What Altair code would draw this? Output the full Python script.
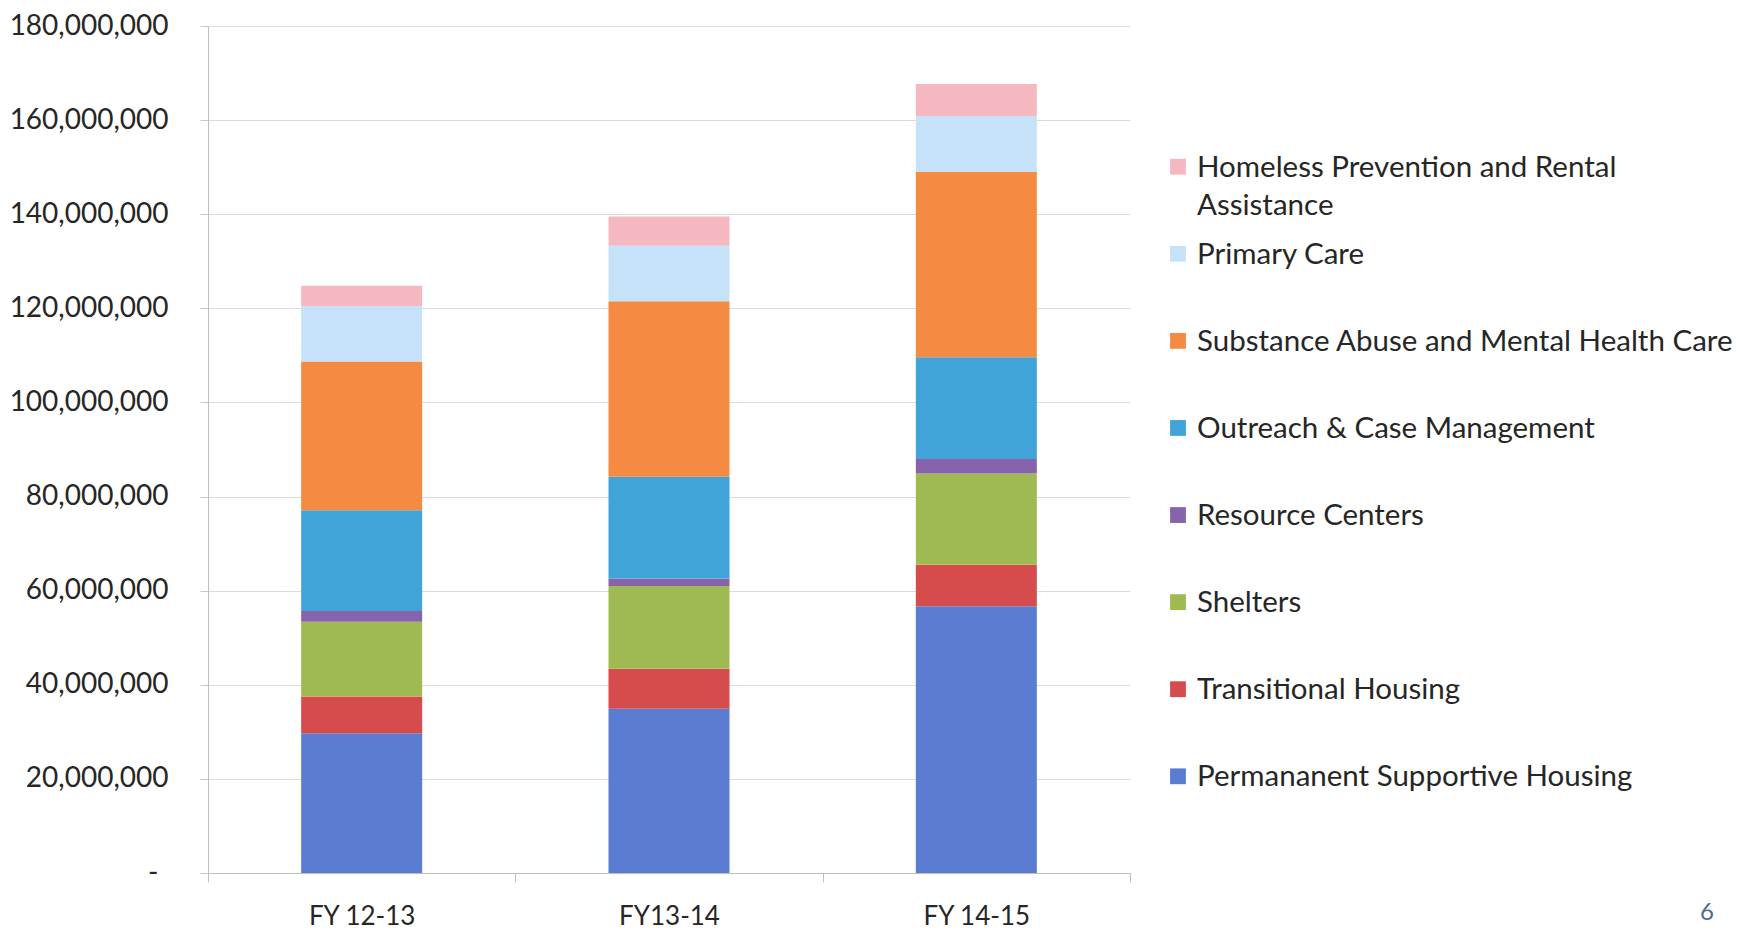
import altair as alt
import pandas as pd

years = ["FY 12-13", "FY13-14", "FY 14-15"]

categories = [
    "Permananent Supportive Housing",
    "Transitional Housing",
    "Shelters",
    "Resource Centers",
    "Outreach & Case Management",
    "Substance Abuse and Mental Health Care",
    "Primary Care",
    "Homeless Prevention and Rental Assistance",
]

legend_text = [
    "Permananent Supportive Housing",
    "Transitional Housing",
    "Shelters",
    "Resource Centers",
    "Outreach & Case Management",
    "Substance Abuse and Mental Health Care",
    "Primary Care",
    "Homeless Prevention and Rental\nAssistance",
]

colors = ["#5A7DD2", "#D64B4B", "#9FBA52", "#8763AC",
          "#40A4D8", "#F58A42", "#C6E2F8", "#F5B8C0"]

psh = [29.7e6, 34.9e6, 56.7e6]
transitional = [7.8e6, 8.5e6, 8.8e6]
shelters = [15.9e6, 17.6e6, 19.4e6]
resource = [2.3e6, 1.6e6, 3.1e6]
outreach = [21.4e6, 21.6e6, 21.6e6]
substance = [31.6e6, 37.3e6, 39.4e6]
primary = [11.8e6, 11.8e6, 11.9e6]
prevention = [4.3e6, 6.2e6, 6.8e6]

series = [psh, transitional, shelters, resource, outreach, substance, primary, prevention]

y_ticks = [0, 20e6, 40e6, 60e6, 80e6, 100e6, 120e6, 140e6, 160e6, 180e6]

rows = []
for ci, (cat, vals) in enumerate(zip(categories, series)):
    for yr, v in zip(years, vals):
        rows.append({"year": yr, "category": cat, "value": v, "idx": ci})
df = pd.DataFrame(rows)

leg = pd.DataFrame({
    "category": categories,
    "label": legend_text,
    "idx": list(range(len(categories))),
})

FONT = "Lato"
TXT = "#262626"

color_scale = alt.Scale(domain=categories, range=colors)

bars = alt.Chart(df).mark_bar(size=121).encode(
    x=alt.X("year:N", sort=years, title=None,
            scale=alt.Scale(paddingInner=0, paddingOuter=0),
            axis=alt.Axis(labelAngle=0, labelFont=FONT, labelFontSize=26,
                          labelColor=TXT, labelPadding=21, tickBand="extent",
                          tickSize=9, tickColor="#BFBFBF", domainColor="#BFBFBF",
                          grid=False)),
    y=alt.Y("value:Q", title=None,
            scale=alt.Scale(domain=[0, 180e6], nice=False),
            axis=alt.Axis(values=y_ticks,
                          labelExpr="datum.value == 0 ? '-' : format(datum.value, ',')",
                          labelFont=FONT, labelFontSize=28, labelColor=TXT,
                          labelPadding={"condition": {"test": "datum.value == 0", "value": 42},
                                        "value": 32},
                          tickSize=8, tickColor="#C8C8C8",
                          domainColor="#BFBFBF", gridColor="#DCDCDC")),
    color=alt.Color("category:N", scale=color_scale, legend=None),
    order=alt.Order("idx:Q", sort="ascending"),
)

leg_y = alt.Y("category:N", sort=list(reversed(categories)),
              scale=alt.Scale(type="point", range=[140.7, 750.3], padding=0),
              axis=None)

leg_sym = alt.Chart(leg).mark_square(size=250, opacity=1).encode(
    x=alt.value(970),
    y=leg_y,
    color=alt.Color("category:N", scale=color_scale, legend=None),
)

leg_txt = alt.Chart(leg).mark_text(
    align="left", baseline="alphabetic", dy=10, font=FONT, fontSize=29.5,
    color=TXT, lineBreak="\n", lineHeight=38,
).encode(
    x=alt.value(989),
    y=leg_y,
    text="label:N",
)

page = alt.Chart(pd.DataFrame({"t": ["6"]})).mark_text(
    font=FONT, fontSize=24, color="#4C6A94", align="center", baseline="middle",
).encode(x=alt.value(1499), y=alt.value(887), text="t:N")

chart = alt.layer(bars, leg_sym, leg_txt, page).resolve_scale(
    y="independent"
).properties(
    width=922, height=847,
    background="white",
    autosize=alt.AutoSizeParams(type="none"),
    padding={"left": 208, "top": 26, "right": 624, "bottom": 59},
).configure_view(stroke=None)

chart.save("out.html", embed_options={"renderer": "svg", "actions": False})
